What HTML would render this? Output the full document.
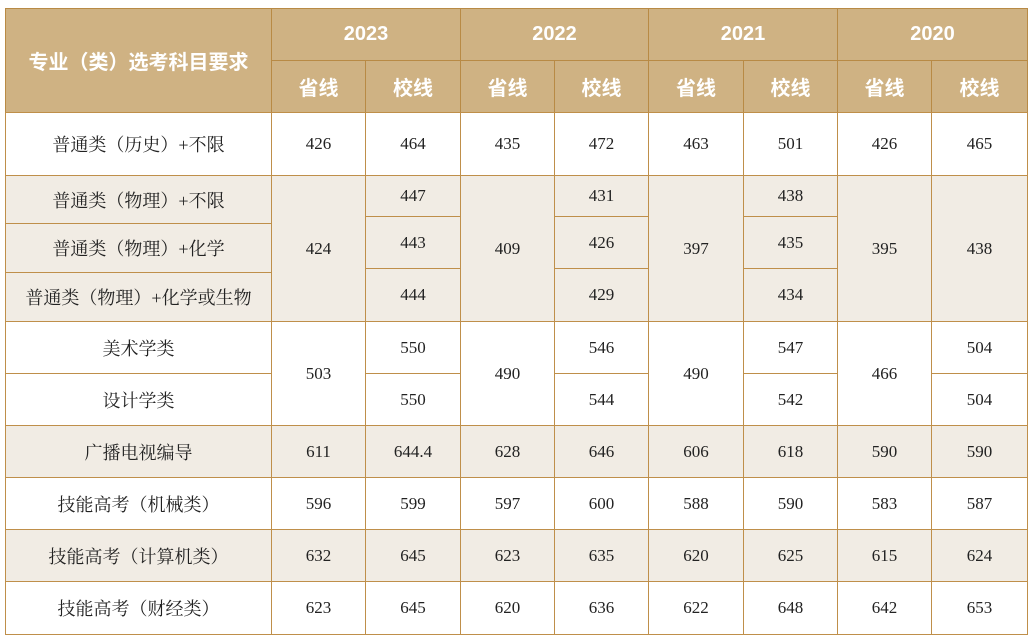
<!DOCTYPE html>
<html><head><meta charset="utf-8"><style>
body{margin:0;width:1032px;height:642px;background:#fff;position:relative;overflow:hidden}
.c{position:absolute;box-sizing:border-box;border:1px solid #bf8f4a;display:flex;align-items:center;justify-content:center;font-family:"Liberation Serif","Noto Serif CJK SC",serif;font-size:17px;color:#222}
.h{background:#cfb283;color:#fff;font-family:"Liberation Sans","Noto Sans CJK SC",sans-serif;font-weight:bold;font-size:20px;border-color:#b88a45}
.s{background:#f1ece4}
.l{font-size:18px}
</style></head><body>
<div id="t"></div>
<script>
var X=[5,271,365,460,554,648,743,837,931,1027];
var h='';
function cell(x0,x1,y0,y1,txt,cls){h+='<div class="c '+(cls||'')+'" style="left:'+x0+'px;top:'+y0+'px;width:'+(x1-x0+1)+'px;height:'+(y1-y0+1)+'px">'+txt+'</div>';}
cell(5,271,8,112,'专业（类）选考科目要求','h');
var yrs=['2023','2022','2021','2020'];
for(var i=0;i<4;i++){cell(X[1+2*i],X[3+2*i],8,60,yrs[i],'h');cell(X[1+2*i],X[2+2*i],60,112,'省线','h');cell(X[2+2*i],X[3+2*i],60,112,'校线','h');}
function row(y0,y1,lab,vals,cls){cell(5,271,y0,y1,lab,'l '+cls);for(var i=0;i<8;i++)cell(X[i+1],X[i+2],y0,y1,vals[i],cls);}
row(112,175,'普通类（历史）+不限',['426','464','435','472','463','501','426','465'],'');
cell(5,271,175,223,'普通类（物理）+不限','l s');
cell(5,271,223,272,'普通类（物理）+化学','l s');
cell(5,271,272,321,'普通类（物理）+化学或生物','l s');
var sheng=['424','409','397','395'];
var xiao=[['447','443','444'],['431','426','429'],['438','435','434']];
for(var i=0;i<4;i++){cell(X[1+2*i],X[2+2*i],175,321,sheng[i],'s');
 if(i<3){cell(X[2+2*i],X[3+2*i],175,216,xiao[i][0],'s');cell(X[2+2*i],X[3+2*i],216,268,xiao[i][1],'s');cell(X[2+2*i],X[3+2*i],268,321,xiao[i][2],'s');}
 else cell(X[2+2*i],X[3+2*i],175,321,'438','s');}
cell(5,271,321,373,'美术学类','l');cell(5,271,373,425,'设计学类','l');
var as=['503','490','490','466'];var ax=[['550','550'],['546','544'],['547','542'],['504','504']];
for(var i=0;i<4;i++){cell(X[1+2*i],X[2+2*i],321,425,as[i],'');cell(X[2+2*i],X[3+2*i],321,373,ax[i][0],'');cell(X[2+2*i],X[3+2*i],373,425,ax[i][1],'');}
row(425,477,'广播电视编导',['611','644.4','628','646','606','618','590','590'],'s');
row(477,529,'技能高考（机械类）',['596','599','597','600','588','590','583','587'],'');
row(529,581,'技能高考（计算机类）',['632','645','623','635','620','625','615','624'],'s');
row(581,634,'技能高考（财经类）',['623','645','620','636','622','648','642','653'],'');
document.getElementById('t').innerHTML=h;
</script>
</body></html>
